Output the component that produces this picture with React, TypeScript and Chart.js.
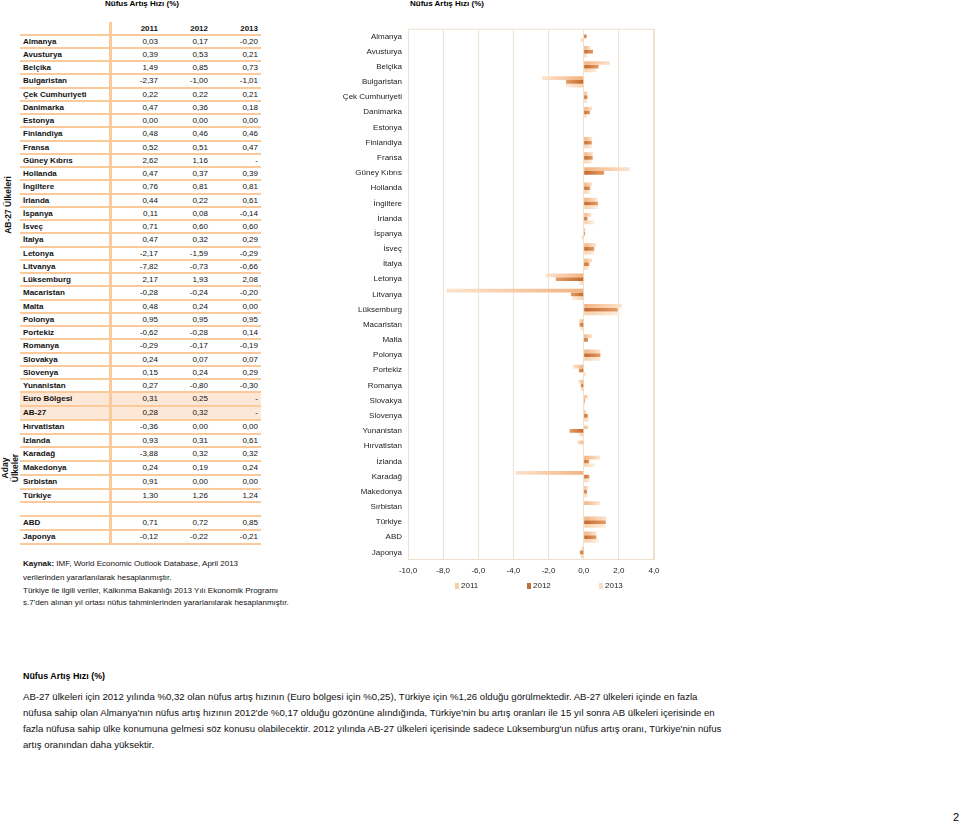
import React, { useEffect, useRef } from "react";
import { Chart, registerables } from "chart.js";

Chart.register(...registerables);

// ---- data ----
const countries = [
  "Almanya", "Avusturya", "Belçika", "Bulgaristan", "Çek Cumhuriyeti", "Danimarka", "Estonya",
  "Finlandiya", "Fransa", "Güney Kıbrıs", "Hollanda", "İngiltere", "İrlanda", "İspanya", "İsveç",
  "İtalya", "Letonya", "Litvanya", "Lüksemburg", "Macaristan", "Malta", "Polonya", "Portekiz",
  "Romanya", "Slovakya", "Slovenya", "Yunanistan", "Euro Bölgesi", "AB-27", "Hırvatistan",
  "İzlanda", "Karadağ", "Makedonya", "Sırbistan", "Türkiye", "ABD", "Japonya",
];
const v2011: (number | null)[] = [
  0.03, 0.39, 1.49, -2.37, 0.22, 0.47, 0.0, 0.48, 0.52, 2.62, 0.47, 0.76, 0.44, 0.11, 0.71,
  0.47, -2.17, -7.82, 2.17, -0.28, 0.48, 0.95, -0.62, -0.29, 0.24, 0.15, 0.27, 0.31, 0.28,
  -0.36, 0.93, -3.88, 0.24, 0.91, 1.3, 0.71, -0.12,
];
const v2012: (number | null)[] = [
  0.17, 0.53, 0.85, -1.0, 0.22, 0.36, 0.0, 0.46, 0.51, 1.16, 0.37, 0.81, 0.22, 0.08, 0.6,
  0.32, -1.59, -0.73, 1.93, -0.24, 0.24, 0.95, -0.28, -0.17, 0.07, 0.24, -0.8, 0.25, 0.32,
  0.0, 0.31, 0.32, 0.19, 0.0, 1.26, 0.72, -0.22,
];
const v2013: (number | null)[] = [
  -0.2, 0.21, 0.73, -1.01, 0.21, 0.18, 0.0, 0.46, 0.47, null, 0.39, 0.81, 0.61, -0.14, 0.6,
  0.29, -0.29, -0.66, 2.08, -0.2, 0.0, 0.95, 0.14, -0.19, 0.07, 0.29, -0.3, null, null,
  0.0, 0.61, 0.32, 0.24, 0.0, 1.24, 0.85, -0.21,
];
const years = ["2011", "2012", "2013"];
const chartExcluded = ["Euro Bölgesi", "AB-27"];
const highlighted = ["Euro Bölgesi", "AB-27"];
const xTicks = [-10, -8, -6, -4, -2, 0, 2, 4];

const FONT = "'Liberation Sans', Arial, sans-serif";
const ORANGE_LINE = "#fbc99a";
const nearColors = ["#f3b27e", "#c4672c", "#f8d0aa"];
const farColors = ["#fce4cf", "#e49c66", "#fdeee0"];
const legendColors = ["#f7cda6", "#c0703c", "#fbdfc4"];

const fmt = (v: number | null) => (v === null ? "-" : v.toFixed(2).replace(".", ","));

function BarChart() {
  const ref = useRef<HTMLCanvasElement | null>(null);
  useEffect(() => {
    if (!ref.current) return;
    const idx = countries.map((c, i) => i).filter((i) => !chartExcluded.includes(countries[i]));
    const labels = idx.map((i) => countries[i]);
    const series = [v2011, v2012, v2013];

    const frame = {
      id: "frame",
      beforeDatasetsDraw(chart: any) {
        const a = chart.chartArea;
        const c = chart.ctx;
        c.save();
        c.strokeStyle = "#eee1ce";
        c.lineWidth = 1;
        c.strokeRect(a.left + 0.5, a.top + 0.5, a.right - a.left - 1, a.bottom - a.top - 1);
        c.restore();
      },
    };
    const legend = {
      id: "customLegend",
      afterDraw(chart: any) {
        const a = chart.chartArea;
        const c = chart.ctx;
        c.save();
        c.font = `8px ${FONT}`;
        c.textBaseline = "middle";
        chart.data.datasets.forEach((ds: any, i: number) => {
          const x0 = a.left + 47 + i * 72;
          const y = a.bottom + 26;
          c.fillStyle = legendColors[i];
          c.fillRect(x0, y - 3, 4, 6);
          c.fillStyle = "#222";
          c.fillText(ds.label, x0 + 6, y);
        });
        c.restore();
      },
    };

    const grad = (k: number) => (ctx: any) => {
      const chart = ctx.chart;
      const xs = chart.scales?.x;
      const v = ctx.raw;
      if (!xs || !chart.chartArea || v === null || v === undefined || v === 0) return nearColors[k];
      const x0 = xs.getPixelForValue(0);
      const x1 = xs.getPixelForValue(v);
      const g = chart.ctx.createLinearGradient(x0, 0, x1, 0);
      g.addColorStop(0, nearColors[k]);
      g.addColorStop(1, farColors[k]);
      return g;
    };

    const chart = new Chart(ref.current, {
      type: "bar",
      data: {
        labels,
        datasets: series.map((s, k) => ({
          label: years[k],
          data: idx.map((i) => s[i]),
          backgroundColor: grad(k),
          borderWidth: 0,
          barPercentage: 1,
          categoryPercentage: 0.74,
        })),
      },
      options: {
        indexAxis: "y",
        animation: false,
        responsive: false,
        maintainAspectRatio: false,
        layout: { padding: { top: 10, right: 16, bottom: 26, left: 0 } },
        plugins: { legend: { display: false }, tooltip: { enabled: false } },
        scales: {
          x: {
            min: -10,
            max: 4,
            afterBuildTicks: (s: any) => {
              s.ticks = xTicks.map((v) => ({ value: v }));
            },
            ticks: {
              callback: (v: any) => Number(v).toFixed(1).replace(".", ","),
              font: { size: 8, family: FONT },
              color: "#222",
              padding: 6,
              maxRotation: 0,
            },
            grid: { color: "#eee1ce", drawTicks: false },
            border: { display: false },
            afterFit: (s: any) => {
              s.height = 17;
            },
          },
          y: {
            ticks: { autoSkip: false, font: { size: 8, family: FONT }, color: "#222", padding: 6 },
            grid: { display: false, drawTicks: false },
            border: { display: false },
            afterFit: (s: any) => {
              s.width = 78;
            },
          },
        },
      },
      plugins: [frame, legend],
    });
    return () => chart.destroy();
  }, []);
  return (
    <canvas
      ref={ref}
      width={340}
      height={585}
      style={{ position: "absolute", left: 330, top: 18, width: 340, height: 585 }}
    />
  );
}

function Table() {
  const rows: { name: string | null; i: number }[] = [];
  rows.push({ name: "__header", i: -1 });
  countries.forEach((c, i) => {
    if (c === "ABD") rows.push({ name: null, i: -1 });
    rows.push({ name: c, i });
  });
  const tops: number[] = [];
  const heights: number[] = [];
  let y = 22.5;
  rows.forEach((_, r) => {
    const h = r === 0 ? 13.2 : r <= 27 ? 13.25 : 13.75;
    tops.push(y);
    heights.push(h);
    y += h;
  });
  const colRight = [158, 208, 258];
  const series = [v2011, v2012, v2013];
  return (
    <>
      {rows.map((row, r) => {
        const hl = row.name !== null && highlighted.includes(row.name);
        return (
          <div
            key={r}
            style={{
              position: "absolute",
              left: 20,
              top: tops[r],
              width: 241,
              height: heights[r],
              background: hl ? "#fde7d6" : "transparent",
              borderBottom: `2px solid ${ORANGE_LINE}`,
              boxSizing: "border-box",
              fontSize: 8,
              lineHeight: `${heights[r] - 1}px`,
              color: "#111",
            }}
          >
            {row.name === "__header" ? (
              years.map((yr, k) => (
                <span key={k} style={{ position: "absolute", right: 261 - colRight[k], top: 0, fontWeight: "bold" }}>
                  {yr}
                </span>
              ))
            ) : row.name ? (
              <>
                <span style={{ position: "absolute", left: 3, top: 0, fontWeight: "bold" }}>{row.name}</span>
                {series.map((s, k) => (
                  <span key={k} style={{ position: "absolute", right: 261 - colRight[k], top: 0 }}>
                    {fmt(s[row.i])}
                  </span>
                ))}
              </>
            ) : null}
          </div>
        );
      })}
      <div style={{ position: "absolute", left: 109, top: 22, width: 3, height: y - 22, background: ORANGE_LINE }} />
      <div
        style={{
          position: "absolute",
          left: 8,
          top: 205,
          transform: "translate(-50%, -50%) rotate(-90deg)",
          fontWeight: "bold",
          fontSize: 8.5,
          whiteSpace: "nowrap",
          color: "#111",
        }}
      >
        AB-27 Ülkeleri
      </div>
      <div
        style={{
          position: "absolute",
          left: 10,
          top: 468,
          transform: "translate(-50%, -50%) rotate(-90deg)",
          fontWeight: "bold",
          fontSize: 8.5,
          lineHeight: "10px",
          whiteSpace: "nowrap",
          textAlign: "center",
          color: "#111",
        }}
      >
        Aday
        <br />
        Ülkeler
      </div>
    </>
  );
}

export default function App() {
  const note = { position: "absolute" as const, left: 23, fontSize: 8, whiteSpace: "nowrap" as const, color: "#111" };
  const para = [
    "AB-27 ülkeleri için 2012 yılında %0,32 olan nüfus artış hızının (Euro bölgesi için %0,25), Türkiye için %1,26 olduğu görülmektedir. AB-27 ülkeleri içinde en fazla",
    "nüfusa sahip olan Almanya'nın nüfus artış hızının 2012'de %0,17 olduğu gözönüne alındığında, Türkiye'nin bu artış oranları ile 15 yıl sonra AB ülkeleri içerisinde en",
    "fazla nüfusa sahip ülke konumuna gelmesi söz konusu olabilecektir. 2012 yılında AB-27 ülkeleri içerisinde sadece Lüksemburg'un nüfus artış oranı, Türkiye'nin nüfus",
    "artış oranından daha yüksektir.",
  ];
  return (
    <div
      style={{
        position: "absolute",
        left: 0,
        top: 0,
        width: 960,
        height: 823,
        background: "#fff",
        fontFamily: FONT,
        overflow: "hidden",
      }}
    >
      <div style={{ position: "absolute", left: 105, top: -1, fontSize: 8, fontWeight: "bold", lineHeight: "10px" }}>
        Nüfus Artış Hızı (%)
      </div>
      <div style={{ position: "absolute", left: 410, top: -1, fontSize: 8, fontWeight: "bold", lineHeight: "10px" }}>
        Nüfus Artış Hızı (%)
      </div>
      <Table />
      <div style={{ ...note, top: 558, lineHeight: "12px" }}>
        <b>Kaynak:</b> IMF, World Economic Outlook Database, April 2013
      </div>
      <div style={{ ...note, top: 572, lineHeight: "12px" }}>verilerinden yararlanılarak hesaplanmıştır.</div>
      <div style={{ ...note, top: 584.5, lineHeight: "12px" }}>
        Türkiye ile ilgili veriler, Kalkınma Bakanlığı 2013 Yılı Ekonomik Programı
      </div>
      <div style={{ ...note, top: 596.5, lineHeight: "12px" }}>
        s.7'den alınan yıl ortası nüfus tahminlerinden yararlanılarak hesaplanmıştır.
      </div>
      <BarChart />
      <div style={{ position: "absolute", left: 23, top: 670, fontSize: 8.9, fontWeight: "bold", lineHeight: "12px" }}>
        Nüfus Artış Hızı (%)
      </div>
      {para.map((l, i) => (
        <div
          key={i}
          style={{ position: "absolute", left: 23, top: 691 + i * 16, fontSize: 9.6, lineHeight: "12px", whiteSpace: "nowrap", color: "#111" }}
        >
          {l}
        </div>
      ))}
      <div style={{ position: "absolute", left: 953, top: 811, fontSize: 11, lineHeight: "12px" }}>2</div>
    </div>
  );
}
